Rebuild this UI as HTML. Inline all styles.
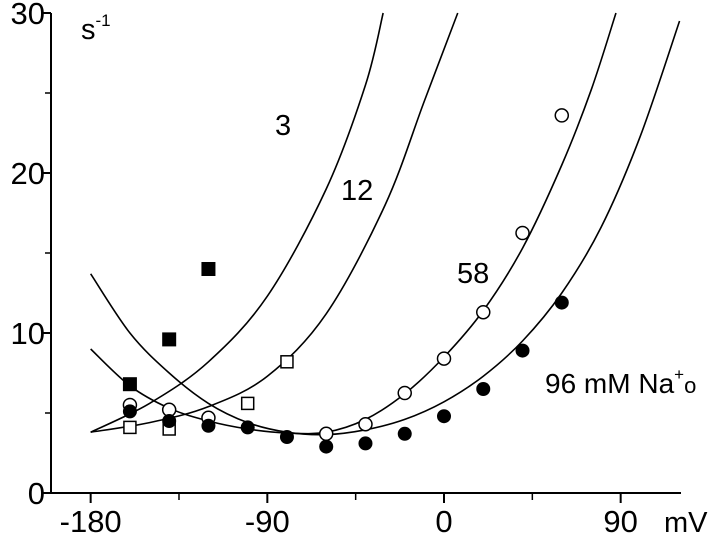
<!DOCTYPE html>
<html><head><meta charset="utf-8"><style>
html,body{margin:0;padding:0;background:#fff;}
svg{display:block;font-family:"Liberation Sans",sans-serif;}
</style></head><body>
<svg id="chart" width="720" height="537" viewBox="0 0 720 537" style="position:absolute;left:0;top:0"></svg>
<script>
const xTicks = [-180, -90, 0, 90];
const xMinor = [-135, -45, 45];
const yTicks = [0, 10, 20, 30];
const yMinor = [5, 15, 25];
const filledSquares = [[-160, 6.8], [-140, 9.6], [-120, 14.0]];
const openSquares = [[-160, 4.1], [-140, 4.0], [-100, 5.6], [-80, 8.2]];
const openCircles = [[-160, 5.5], [-140, 5.2], [-120, 4.7], [-60, 3.7], [-40, 4.3], [-20, 6.25], [0, 8.4], [20, 11.3], [40, 16.25], [60, 23.6]];
const filledCircles = [[-160, 5.1], [-140, 4.5], [-120, 4.2], [-100, 4.1], [-80, 3.5], [-60, 2.9], [-40, 3.1], [-20, 3.7], [0, 4.8], [20, 6.5], [40, 8.9], [60, 11.9]];
const curve3 = [[-180, 3.8], [-150, 5.6], [-120, 8.2], [-90, 12.3], [-60, 19.0], [-40, 25.5], [-31, 30]];
const curve12 = [[-180, 3.8], [-150, 4.4], [-120, 5.4], [-90, 7.3], [-60, 11.2], [-30, 18.0], [-10, 24.5], [7, 30]];
const curve58 = [[-180, 9.0], [-160, 6.7], [-140, 5.3], [-120, 4.5], [-100, 4.0], [-80, 3.75], [-60, 3.8], [-40, 4.6], [-20, 6.2], [0, 8.5], [20, 11.4], [40, 15.3], [60, 20.5], [75, 25.2], [87.6, 30]];
const curve96 = [[-180, 13.7], [-160, 10.0], [-140, 7.5], [-120, 5.6], [-100, 4.4], [-80, 3.8], [-60, 3.65], [-40, 3.95], [-20, 4.6], [0, 5.7], [20, 7.3], [40, 9.5], [60, 12.5], [80, 16.6], [100, 22.3], [120, 29.5]];

const NS = "http://www.w3.org/2000/svg";
const svg = document.getElementById('chart');
const X = v => 444 + v * 1.963;
const Y = r => 493 - r * 16;
function mk(tag, attrs, parent) {
  const e = document.createElementNS(NS, tag);
  for (const k in attrs) e.setAttribute(k, attrs[k]);
  (parent || svg).appendChild(e);
  return e;
}
let a = mk('line', {x1: 51, y1: 13, x2: 51, y2: 494, stroke: '#000', 'stroke-width': 2});


a = mk('line', {x1: 50, y1: 493, x2: 681, y2: 493, stroke: '#000', 'stroke-width': 2});


yTicks.forEach(t => {
  const l = mk('line', {x1: 42, y1: Y(t), x2: 51, y2: Y(t), stroke: '#000', 'stroke-width': 2});
  
  
  const tx = mk('text', {x: 45, y: Y(t) + 11, 'text-anchor': 'end', 'font-size': 31});
  tx.textContent = t;
  
  
});
yMinor.forEach(t => {
  const l = mk('line', {x1: 45, y1: Y(t), x2: 51, y2: Y(t), stroke: '#000', 'stroke-width': 1.5});
  
  
});
xTicks.forEach(t => {
  const l = mk('line', {x1: X(t), y1: 493, x2: X(t), y2: 503, stroke: '#000', 'stroke-width': 2});
  
  
  const tx = mk('text', {x: X(t), y: 532, 'text-anchor': 'middle', 'font-size': 31});
  tx.textContent = t;
  
  
});
xMinor.forEach(t => {
  const l = mk('line', {x1: X(t), y1: 493, x2: X(t), y2: 500, stroke: '#000', 'stroke-width': 1.5});
  
  
});
function pathFor(pts) {
  const p = pts.map(d => [X(d[0]), Y(d[1])]);
  let s = 'M' + p[0][0] + ',' + p[0][1];
  for (let i = 0; i < p.length - 1; i++) {
    const p0 = p[Math.max(0, i - 1)], p1 = p[i], p2 = p[i + 1], p3 = p[Math.min(p.length - 1, i + 2)];
    const c1 = [p1[0] + (p2[0] - p0[0]) / 6, p1[1] + (p2[1] - p0[1]) / 6];
    const c2 = [p2[0] - (p3[0] - p1[0]) / 6, p2[1] - (p3[1] - p1[1]) / 6];
    s += 'C' + c1 + ' ' + c2 + ' ' + p2;
  }
  return s;
}
[[curve3, 'curve-3mM'], [curve12, 'curve-12mM'], [curve58, 'curve-58mM'], [curve96, 'curve-96mM']].forEach(c => {
  const p = mk('path', {d: pathFor(c[0]), fill: 'none', stroke: '#000', 'stroke-width': 1.6});
  
  
});
openSquares.forEach(d => {
  const r = mk('rect', {x: X(d[0]) - 6, y: Y(d[1]) - 6, width: 12, height: 12, fill: '#fff', stroke: '#000', 'stroke-width': 1.5});
  
  
});
filledSquares.forEach(d => {
  const r = mk('rect', {x: X(d[0]) - 7, y: Y(d[1]) - 7, width: 14, height: 14, fill: '#000'});
  
  
});
openCircles.forEach(d => {
  const c = mk('circle', {cx: X(d[0]), cy: Y(d[1]), r: 6.5, fill: '#fff', stroke: '#000', 'stroke-width': 1.5});
  
  
});
filledCircles.forEach(d => {
  const c = mk('circle', {cx: X(d[0]), cy: Y(d[1]), r: 7, fill: '#000'});
  
  
});
</script>
<svg width="720" height="537" style="position:absolute;left:0;top:0;font-family:'Liberation Sans',sans-serif">
  <text x="81" y="39" font-size="29">s<tspan font-size="17" dy="-13">-1</tspan></text>
  <text x="275" y="135" font-size="29">3</text>
  <text x="341" y="200" font-size="29">12</text>
  <text x="457" y="283" font-size="29">58</text>
  <text x="545" y="393" font-size="28">96 mM Na<tspan font-size="17" dy="-13">+</tspan><tspan font-size="22" dy="13">o</tspan></text>
  <text x="664" y="532" font-size="29">mV</text>
</svg>
</body></html>
